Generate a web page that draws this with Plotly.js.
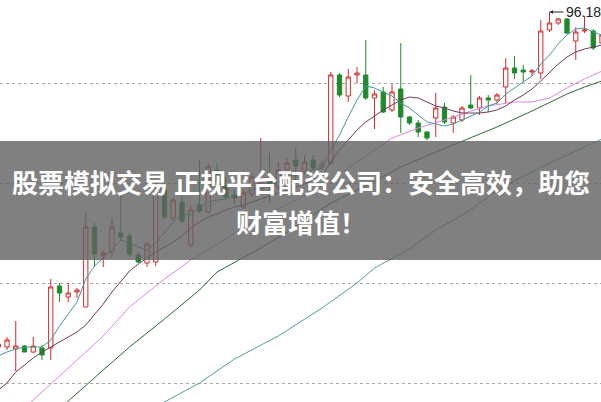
<!DOCTYPE html>
<html>
<head>
<meta charset="utf-8">
<script src="https://cdn.plot.ly/plotly-3.0.1.min.js"></script>
<style>html,body{margin:0;padding:0;background:#fff;}#chart{width:601px;height:402px;}</style>
</head>
<body>
<div id="chart"></div>
<script>
// ---- Data ----
const dayIndex = [0,1,2,3,4,5,6,7,8,9,10,11,12,13,14,15,16,17,18,19,20,21,22,23,24,25,26,27,28,29,30,31,32,33,34,35,36,37,38,39,40,41,42,43,44,45,46,47,48,49,50,51,52,53,54,55,56,57,58,59,60,61,62,63,64,65,66,67,68,69];

const openP  = [62.68,62.68,62.48,62.78,62.18,62.58,62.58,68.78,67.68,68.18,66.68,74.68,71.88,72.18,74.08,73.78,71.88,71.08,71.18,78.38,75.58,77.18,72.88,76.88,76.18,80.38,78.88,77.88,76.68,77.98,78.18,79.38,78.68,80.38,81.38,80.18,81.38,80.68,81.08,89.88,87.78,89.88,89.88,87.58,88.18,86.38,88.48,85.68,85.08,84.18,85.58,86.68,85.08,85.38,86.88,86.58,87.58,87.38,88.68,90.58,90.38,90.18,90.08,94.38,95.08,95.48,93.28,94.28,94.28,93.08];
const highP  = [63.18,63.68,65.28,62.88,63.68,62.88,69.48,69.08,69.08,68.58,76.18,75.08,72.38,75.58,78.08,74.08,72.18,73.18,79.08,78.88,77.68,77.88,76.78,81.38,81.08,81.08,79.68,78.38,78.38,79.98,83.58,82.08,81.18,81.58,82.58,81.88,81.88,81.38,90.18,90.08,90.48,90.68,93.38,88.38,88.68,88.98,93.08,85.78,85.38,84.28,88.08,87.08,85.88,86.78,89.88,87.78,87.88,88.08,91.58,91.78,90.88,90.48,95.38,96.18,95.58,95.58,94.68,95.78,94.48,94.18];
const lowP   = [62.48,62.38,60.28,62.18,62.08,61.38,61.38,67.18,67.18,67.58,66.68,70.68,70.68,71.68,73.38,71.68,71.08,70.68,70.78,75.48,75.28,75.08,72.68,76.08,75.98,77.88,77.48,76.98,76.48,77.68,77.88,77.18,78.38,79.98,79.18,79.98,80.38,80.38,80.88,87.68,87.18,89.08,87.38,84.48,86.08,86.18,84.08,84.88,83.68,83.38,83.68,84.98,84.08,85.18,86.48,85.88,86.18,86.98,87.08,89.48,89.18,89.78,89.48,94.18,94.88,93.98,91.38,94.08,92.38,92.88];
const closeP = [62.98,63.38,62.78,62.18,62.78,61.88,68.68,68.08,68.08,68.38,74.68,71.98,72.08,74.68,73.68,71.98,71.18,72.98,78.68,75.68,77.38,75.28,76.38,76.28,80.68,78.38,77.68,77.58,78.08,79.68,79.18,78.78,80.38,81.08,80.78,81.18,80.58,80.98,89.88,87.88,89.68,90.08,87.58,87.98,86.18,88.18,85.68,85.08,84.18,83.58,86.58,85.18,85.68,86.58,86.58,87.58,87.38,87.88,90.58,90.08,90.18,90.28,94.28,95.08,95.48,94.08,94.18,94.38,92.58,93.88];

const ma5  = [61.78,62.18,62.48,62.68,62.68,62.68,63.38,64.78,65.98,67.18,69.48,70.78,71.58,72.38,73.38,73.08,72.68,72.38,73.08,74.18,75.18,75.98,75.88,76.58,77.18,77.38,77.48,77.88,77.98,78.38,78.58,78.78,79.18,79.68,79.88,80.18,80.38,80.58,82.38,83.88,85.68,87.38,88.78,88.58,88.18,87.78,87.08,86.58,85.88,85.18,84.98,84.78,84.98,85.38,85.78,86.18,86.78,87.08,87.98,88.58,89.18,89.78,90.98,91.88,92.98,93.88,94.48,94.58,94.18,93.88];
const ma10 = [58.38,59.08,60.18,60.88,61.58,62.18,62.68,63.18,63.68,64.18,64.88,65.88,66.98,68.18,69.28,70.28,70.98,71.58,72.18,72.68,73.18,73.78,74.58,75.18,75.68,75.98,76.38,76.68,76.88,77.18,77.48,77.78,78.08,78.38,78.68,78.98,79.38,79.78,81.18,82.38,83.38,84.38,85.18,85.78,86.38,86.88,87.38,87.68,87.58,87.18,86.78,86.58,86.28,86.08,86.08,86.08,86.18,86.38,86.78,87.38,87.88,88.48,89.28,90.18,90.98,91.68,92.18,92.48,92.68,92.88];

const ma20Day  = [3,4,8,12,15,19,22,25,28,31,35,38,41,45,48,51,54,56,59,61,63,65,67,69];
const ma20     = [56.58,57.38,60.48,63.78,66.68,69.48,71.38,72.98,74.58,76.08,77.78,79.38,81.18,83.58,84.58,85.38,86.28,86.78,87.18,87.18,87.58,88.58,89.48,90.28];
const ma60Day  = [7,8,12,15,19,23,25,28,30,34,38,42,46,50,54,57,61,65,67,69];
const ma60     = [56.38,57.28,60.38,62.68,65.48,68.38,70.18,71.58,72.58,74.68,77.08,78.78,80.68,82.18,83.58,84.68,86.28,87.98,88.68,89.28];
const ma120Day = [18,19,23,27,32,37,41,43,47,50,54,57,63,69];
const ma120    = [56.58,57.18,59.08,61.48,63.78,66.58,69.08,70.58,72.48,74.38,76.38,78.38,81.08,83.48];

const gridPrices = [59.08,69.08,79.08,89.08];
const peakDay = 63, peakPrice = 96.18, peakLabel = '96.18';
const bannerLine1 = '股票模拟交易 正规平台配资公司：安全高效，助您';
const bannerLine2 = '财富增值！';

// ---- Traces ----
const RED = '#d42a2a', GREEN = '#1f8a2a';
const candle = {
  type: 'candlestick', x: dayIndex, open: openP, high: highP, low: lowP, close: closeP,
  increasing: {line: {color: RED, width: 1}, fillcolor: '#ffffff'},
  decreasing: {line: {color: GREEN, width: 1}, fillcolor: GREEN},
  whiskerwidth: 0, hoverinfo: 'skip'
};
function line(x, y, color) {
  return {type: 'scatter', mode: 'lines', x: x, y: y, line: {color: color, width: 1}, hoverinfo: 'skip'};
}
const traces = [
  candle,
  line(ma120Day, ma120, '#4f9ea3'),
  line(ma60Day, ma60, '#2f6a34'),
  line(ma20Day, ma20, '#df86df'),
  line(dayIndex, ma10, '#74365f'),
  line(dayIndex, ma5, '#3f9aa2')
];

const layout = {
  width: 601, height: 402,
  margin: {l: 0, r: 0, t: 0, b: 0, pad: 0},
  paper_bgcolor: '#ffffff', plot_bgcolor: '#ffffff',
  showlegend: false,
  boxgap: 0.3,
  xaxis: {range: [0.2, 68.886], showgrid: false, zeroline: false, showticklabels: false,
          showline: false, ticks: '', rangeslider: {visible: false}, fixedrange: true},
  yaxis: {range: [57.18, 97.38], tickvals: gridPrices, showticklabels: false, ticks: '',
          showgrid: true, gridcolor: '#a8a8a8', griddash: 'dot', gridwidth: 1,
          zeroline: false, showline: false, fixedrange: true},
  shapes: [{type: 'rect', xref: 'paper', yref: 'paper', x0: 0, x1: 1, y0: 1 - 260/402, y1: 1 - 141/402,
            fillcolor: 'rgba(96,96,96,0.8)', line: {width: 0}, layer: 'above'}],
  annotations: [
    {x: peakDay, y: peakPrice, xref: 'x', yref: 'y', text: peakLabel, showarrow: true,
     ax: 15, ay: 0, xanchor: 'left', yanchor: 'middle', arrowhead: 2, arrowsize: 0.7, arrowwidth: 1,
     arrowcolor: '#222', standoff: 0, startstandoff: 1, borderpad: 0,
     font: {family: 'Liberation Sans, Arial, sans-serif', size: 14, color: '#222'}},
    {x: 0.501, y: 1 - 181/402, xref: 'paper', yref: 'paper', text: '<b>' + bannerLine1 + '</b>',
     showarrow: false, xanchor: 'center', yanchor: 'middle',
     font: {family: 'Noto Sans CJK SC, sans-serif', size: 26, color: '#ffffff'}},
    {x: 0.5, y: 1 - 221/402, xref: 'paper', yref: 'paper', text: '<b>' + bannerLine2 + '</b>',
     showarrow: false, xanchor: 'center', yanchor: 'middle',
     font: {family: 'Noto Sans CJK SC, sans-serif', size: 26, color: '#ffffff'}}
  ]
};

Plotly.newPlot('chart', traces, layout, {staticPlot: true, displayModeBar: false});
</script>
</body>
</html>
